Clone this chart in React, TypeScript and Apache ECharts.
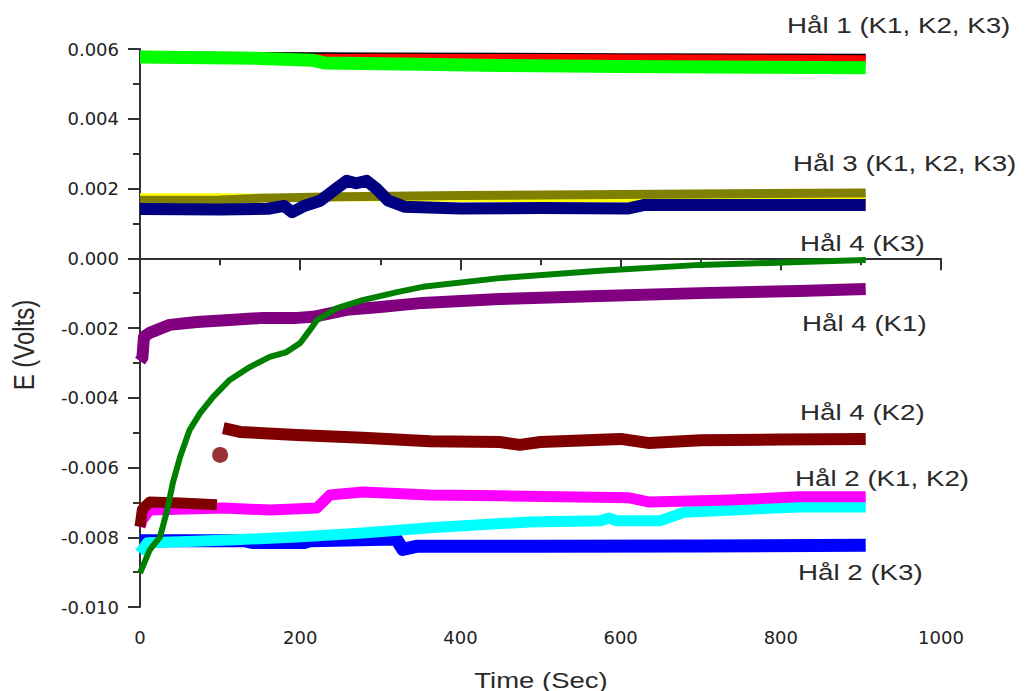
import { useEffect, useRef } from "react";
import * as echarts from "echarts";

type Pt = [number, number];

// Axis ranges and tick steps
const timeRange: Pt = [0, 1000];
const timeStep = 200;
const voltRange: Pt = [-0.01, 0.006];
const voltStep = 0.002;

// Hål 1 (K1, K2, K3)
const hal1K1: Pt[] = [[0, 0.00586], [300, 0.00583], [600, 0.00581], [906, 0.00579]];
const hal1K2: Pt[] = [[0, 0.00574], [100, 0.00572], [200, 0.00571], [300, 0.00572], [500, 0.00571], [906, 0.00568]];
const hal1K3: Pt[] = [[0, 0.00577], [150, 0.00573], [215, 0.00568], [230, 0.0056], [350, 0.00556], [450, 0.00553], [600, 0.0055], [906, 0.00546]];

// Hål 3 (K1, K2, K3)
const hal3K1: Pt[] = [[0, 0.00176], [100, 0.00176], [200, 0.00174], [400, 0.00172], [906, 0.00168]];
const hal3K2: Pt[] = [[0, 0.00166], [100, 0.00167], [150, 0.00172], [250, 0.00176], [400, 0.0018], [600, 0.00183], [906, 0.00187]];
const hal3K3: Pt[] = [
  [0, 0.00141], [100, 0.0014], [160, 0.00142], [180, 0.0015], [190, 0.00132], [205, 0.0015],
  [225, 0.00165], [245, 0.002], [258, 0.00222], [270, 0.00215], [283, 0.00222], [295, 0.002],
  [310, 0.00165], [330, 0.00148], [400, 0.00143], [500, 0.00144], [610, 0.00143], [630, 0.00153], [906, 0.00153],
];

// Hål 4
const hal4K3: Pt[] = [
  [0, -0.00903], [12, -0.00837], [25, -0.00799], [34, -0.00722], [41, -0.00644], [50, -0.0057],
  [62, -0.00492], [75, -0.00444], [91, -0.00398], [112, -0.00349], [137, -0.00312], [162, -0.00283],
  [183, -0.00269], [200, -0.00243], [212, -0.00206], [221, -0.00177], [246, -0.00143], [278, -0.0012],
  [321, -0.00097], [353, -0.00082], [449, -0.00057], [574, -0.00036], [699, -0.00019], [823, -0.00011], [906, -0.00005],
];
const hal4K1: Pt[] = [
  [0, -0.00295], [3, -0.00285], [5, -0.00225], [12, -0.00214], [37, -0.00191], [71, -0.00183],
  [112, -0.00177], [154, -0.00171], [196, -0.00171], [216, -0.00168], [258, -0.00148], [300, -0.0014],
  [353, -0.00128], [449, -0.00117], [574, -0.00108], [699, -0.001], [823, -0.00094], [906, -0.00088],
];
const hal4K2Early: Pt[] = [[0, -0.0077], [3, -0.0072], [12, -0.00699], [50, -0.00702], [96, -0.00707]];
const hal4K2Blob: Pt[] = [[100, -0.00564]];
const hal4K2Late: Pt[] = [
  [104, -0.00487], [125, -0.00498], [196, -0.00507], [278, -0.00515], [362, -0.00525], [449, -0.00527],
  [474, -0.00535], [500, -0.00527], [600, -0.00518], [636, -0.0053], [700, -0.00522], [800, -0.0052], [906, -0.00518],
];

// Hål 2
const hal2K1: Pt[] = [
  [0, -0.0077], [3, -0.0075], [12, -0.00722], [104, -0.00716], [162, -0.00722], [221, -0.00716],
  [237, -0.00679], [278, -0.0067], [362, -0.00679], [449, -0.00681], [611, -0.00687], [636, -0.00699],
  [736, -0.00693], [823, -0.00684], [906, -0.00684],
];
const hal2K2: Pt[] = [
  [0, -0.00845], [9, -0.00816], [50, -0.00813], [112, -0.00808], [196, -0.00799], [278, -0.00788],
  [362, -0.00773], [487, -0.00756], [574, -0.00753], [586, -0.00745], [595, -0.00753], [649, -0.00753],
  [680, -0.00728], [823, -0.00713], [906, -0.00713],
];
const hal2K3: Pt[] = [
  [0, -0.0081], [130, -0.0081], [140, -0.00815], [205, -0.00815], [212, -0.0081], [320, -0.00805],
  [328, -0.00835], [345, -0.00826], [500, -0.00826], [700, -0.00825], [906, -0.00823],
];

// Curve captions and their placement
const captions = ["Hål 1 (K1, K2, K3)", "Hål 3 (K1, K2, K3)", "Hål 4 (K3)", "Hål 4 (K1)", "Hål 4 (K2)", "Hål 2 (K1, K2)", "Hål 2 (K3)"];
const captionPos: Pt[] = [[787, 25], [793, 163], [800, 243], [802, 323], [800, 412], [795, 478], [798, 572]];

const xTitle = "Time (Sec)";
const yTitle = "E (Volts)";

const line = (name: string, data: Pt[], color: string, width: number) => ({
  type: "line",
  name,
  data,
  showSymbol: false,
  symbol: "none",
  silent: true,
  lineStyle: { color, width, join: "round", cap: "butt" },
  itemStyle: { color },
});

export default function App() {
  const ref = useRef<HTMLDivElement>(null);

  useEffect(() => {
    if (!ref.current) return;
    const chart = echarts.init(ref.current, undefined, { renderer: "svg" });
    const axisColor = "#333";
    const labelFont = { fontFamily: "DejaVu Sans", fontSize: 18, color: "#222" };
    const textFont = '22px "Liberation Sans", Arial, sans-serif';

    chart.setOption({
      animation: false,
      backgroundColor: "#fff",
      grid: { left: 140, top: 49, right: 90, bottom: 84 },
      xAxis: {
        type: "value",
        min: timeRange[0],
        max: timeRange[1],
        interval: timeStep,
        axisLine: { show: true, lineStyle: { color: axisColor, width: 2 } },
        axisTick: { show: true, inside: false, length: 12, lineStyle: { color: axisColor, width: 2 } },
        minorTick: { show: true, splitNumber: 2, length: 7, lineStyle: { color: axisColor, width: 2 } },
        splitLine: { show: false },
        axisLabel: { ...labelFont, margin: 21, formatter: (v: number) => String(v) },
      },
      yAxis: {
        type: "value",
        min: voltRange[0],
        max: voltRange[1],
        interval: voltStep,
        axisLine: { show: true, lineStyle: { color: axisColor, width: 2 } },
        axisTick: { show: true, inside: false, length: 12, lineStyle: { color: axisColor, width: 2 } },
        minorTick: { show: true, splitNumber: 2, length: 7, lineStyle: { color: axisColor, width: 2 } },
        splitLine: { show: false },
        axisLabel: { ...labelFont, margin: 21, formatter: (v: number) => v.toFixed(3) },
      },
      series: [
        line("Hål 1 K1", hal1K1, "#000000", 5),
        line("Hål 1 K2", hal1K2, "#ff0000", 10),
        line("Hål 1 K3", hal1K3, "#00ff00", 13),
        line("Hål 3 K1", hal3K1, "#ffff00", 7),
        line("Hål 3 K2", hal3K2, "#808000", 9),
        line("Hål 3 K3", hal3K3, "#000080", 12),
        line("Hål 2 K3", hal2K3, "#0000ff", 13),
        line("Hål 2 K2", hal2K2, "#00ffff", 11),
        line("Hål 2 K1", hal2K1, "#ff00ff", 11),
        line("Hål 4 K2", hal4K2Early, "#800000", 11),
        line("Hål 4 K2", hal4K2Late, "#800000", 12),
        {
          type: "scatter",
          name: "Hål 4 K2",
          data: hal4K2Blob,
          symbol: "circle",
          symbolSize: 16,
          silent: true,
          itemStyle: { color: "#800000" },
        },
        line("Hål 4 K1", hal4K1, "#800080", 12),
        line("Hål 4 K3", hal4K3, "#008000", 6),
      ],
      graphic: [
        ...captions.map((text, i) => ({
          type: "text",
          x: captionPos[i][0],
          y: captionPos[i][1],
          scaleX: 1.26,
          silent: true,
          style: {
            text,
            fill: "#2a2a2a",
            font: textFont,
            textAlign: "left",
            textVerticalAlign: "middle",
          },
        })),
        {
          type: "text",
          x: 541,
          y: 680,
          scaleX: 1.25,
          silent: true,
          style: {
            text: xTitle,
            fill: "#2a2a2a",
            font: textFont,
            textAlign: "center",
            textVerticalAlign: "middle",
          },
        },
        {
          type: "text",
          x: 24,
          y: 345,
          rotation: Math.PI / 2,
          scaleY: 1.2,
          silent: true,
          style: {
            text: yTitle,
            fill: "#2a2a2a",
            font: '24px "Liberation Sans", Arial, sans-serif',
            textAlign: "center",
            textVerticalAlign: "middle",
          },
        },
      ],
    });

    return () => chart.dispose();
  }, []);

  return (
    <div
      ref={ref}
      style={{ position: "absolute", left: 0, top: 0, width: 1031, height: 691 }}
    />
  );
}
